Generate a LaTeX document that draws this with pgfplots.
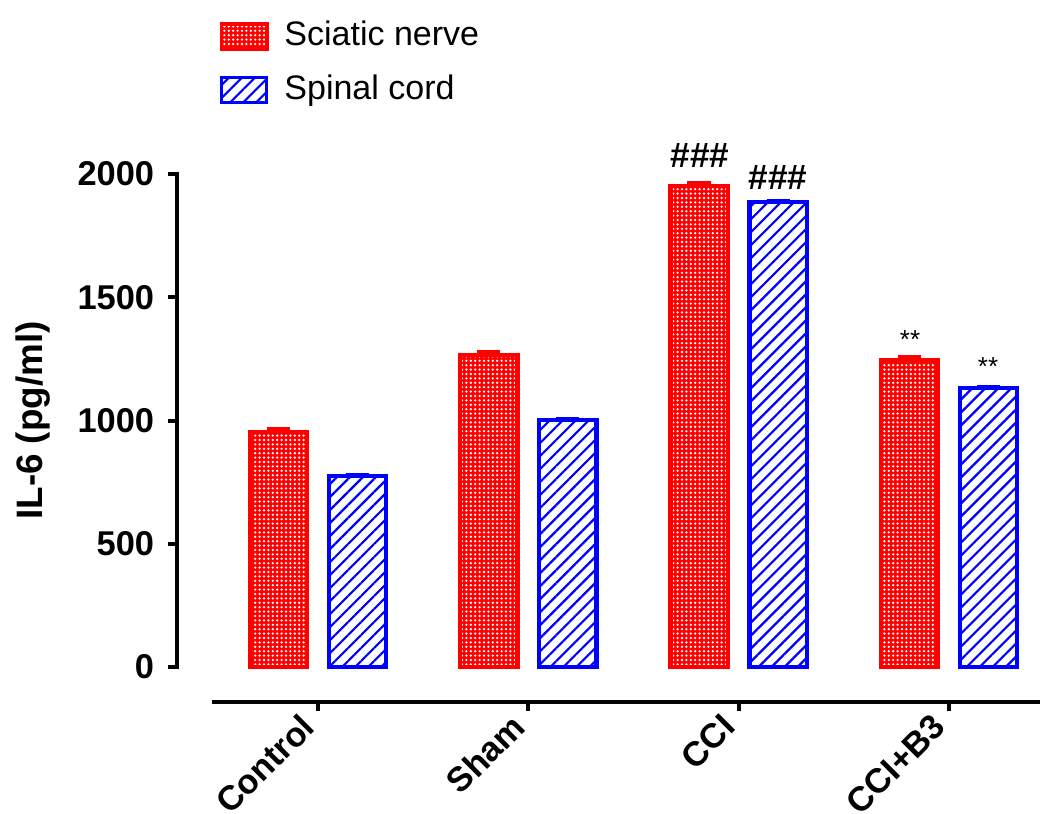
\documentclass[border=0pt]{standalone}
\usepackage{fontspec}
\setmainfont{Liberation Sans}
\usepackage{pgfplots}
\usepackage{pgfplotstable}
\pgfplotsset{compat=1.18}
\usetikzlibrary{patterns.meta}
\definecolor{ink}{RGB}{3,3,3}

\pgfplotstableread{
x y e
-0.188 953 12
0.812 1266 12
1.812 1951 12
2.812 1245 12
}\sciatic
\pgfplotstableread{
x y e
0.188 775 3
1.188 1002 3
2.188 1886 3
3.188 1132 3
}\spinal

\begin{document}
\begin{tikzpicture}
\begin{axis}[
  name=ax,
  scale only axis,
  width=207pt, height=123.25pt,
  xmin=-0.504, xmax=3.433,
  ymin=0, ymax=2000,
  axis x line=bottom,
  axis y line=left,
  separate axis lines,
  axis x line shift=8.75pt,
  axis y line shift=8.75pt,
  x axis line style={line width=1pt, -, draw=ink},
  y axis line style={line width=1pt, -, draw=ink},
  tick style={line width=1pt, ink},
  tick align=outside,
  major tick length=2.2pt,
  xtick={0,1,2,3},
  xticklabels={Control,Sham,CCI,CCI+B3},
  ytick={0,500,1000,1500,2000},
  /pgf/number format/assume math mode=true,
  /pgf/number format/1000 sep={},
  ticklabel style={font=\fontsize{8.6}{10}\selectfont\bfseries},
  xticklabel style={rotate=45, anchor=east},
  ylabel={IL-6 (pg/ml)},
  ylabel style={font=\fontsize{9.2}{10}\selectfont\bfseries},
  ybar, bar shift=0pt, bar width=0.273,
  clip=false,
  legend style={at={(0.009,1.32)}, anchor=north west, draw=none, fill=none,
    font=\fontsize{8.5}{10}\selectfont, row sep=3.8pt, inner sep=0pt,
    nodes={inner sep=1pt}},
  legend cell align=left,
  legend image code/.code={\draw[#1, line width=0.8pt] (0pt,-3.1pt) rectangle (11.25pt,3.1pt);},
  /tikz/every odd column/.append style={column sep=3pt},
]
\fill[black] ([shift={(-9.25pt,-0.5pt)}]rel axis cs:0,0) rectangle ([shift={(-8.25pt,0.5pt)}]rel axis cs:0,1);
\addplot[draw=red, line width=1.1pt, preaction={fill=red},
  pattern={Dots[radius=0.32pt, distance=1.1pt]}, pattern color=white,
  error bars/.cd, y dir=plus, y explicit,
  error bar style={red, line width=1.1pt},
  error mark options={rotate=90, red, mark size=2.9pt, line width=1.1pt}]
  table[x=x, y=y, y error=e] {\sciatic};
\addlegendentry{Sciatic nerve}
\addplot[draw=blue, line width=1.1pt, fill=white,
  pattern={Lines[angle=45, distance=2.3pt, line width=0.55pt]}, pattern color=blue,
  error bars/.cd, y dir=plus, y explicit,
  error bar style={blue, line width=1.1pt},
  error mark options={rotate=90, blue, mark size=2.9pt, line width=1.1pt}]
  table[x=x, y=y, y error=e] {\spinal};
\addlegendentry{Spinal cord}
\node[font=\fontsize{8.8}{10}\selectfont\bfseries] at (axis cs:1.816,2077) {\#\#\#};
\node[font=\fontsize{8.8}{10}\selectfont\bfseries] at (axis cs:2.187,1984) {\#\#\#};
\node[font=\fontsize{6.5}{8}\selectfont] at (axis cs:2.815,1330) {**};
\node[font=\fontsize{6.5}{8}\selectfont] at (axis cs:3.186,1220) {**};
\end{axis}
\fill[ink] ([shift={(-9.25pt,-0.5pt)}]ax.south west) rectangle ([shift={(-8.25pt,0.5pt)}]ax.north west);
\pgfresetboundingbox
\path ([shift={(-53pt,-36.75pt)}]ax.south west) rectangle ([shift={(207pt,166.75pt)}]ax.south west);
\end{tikzpicture}
\end{document}
